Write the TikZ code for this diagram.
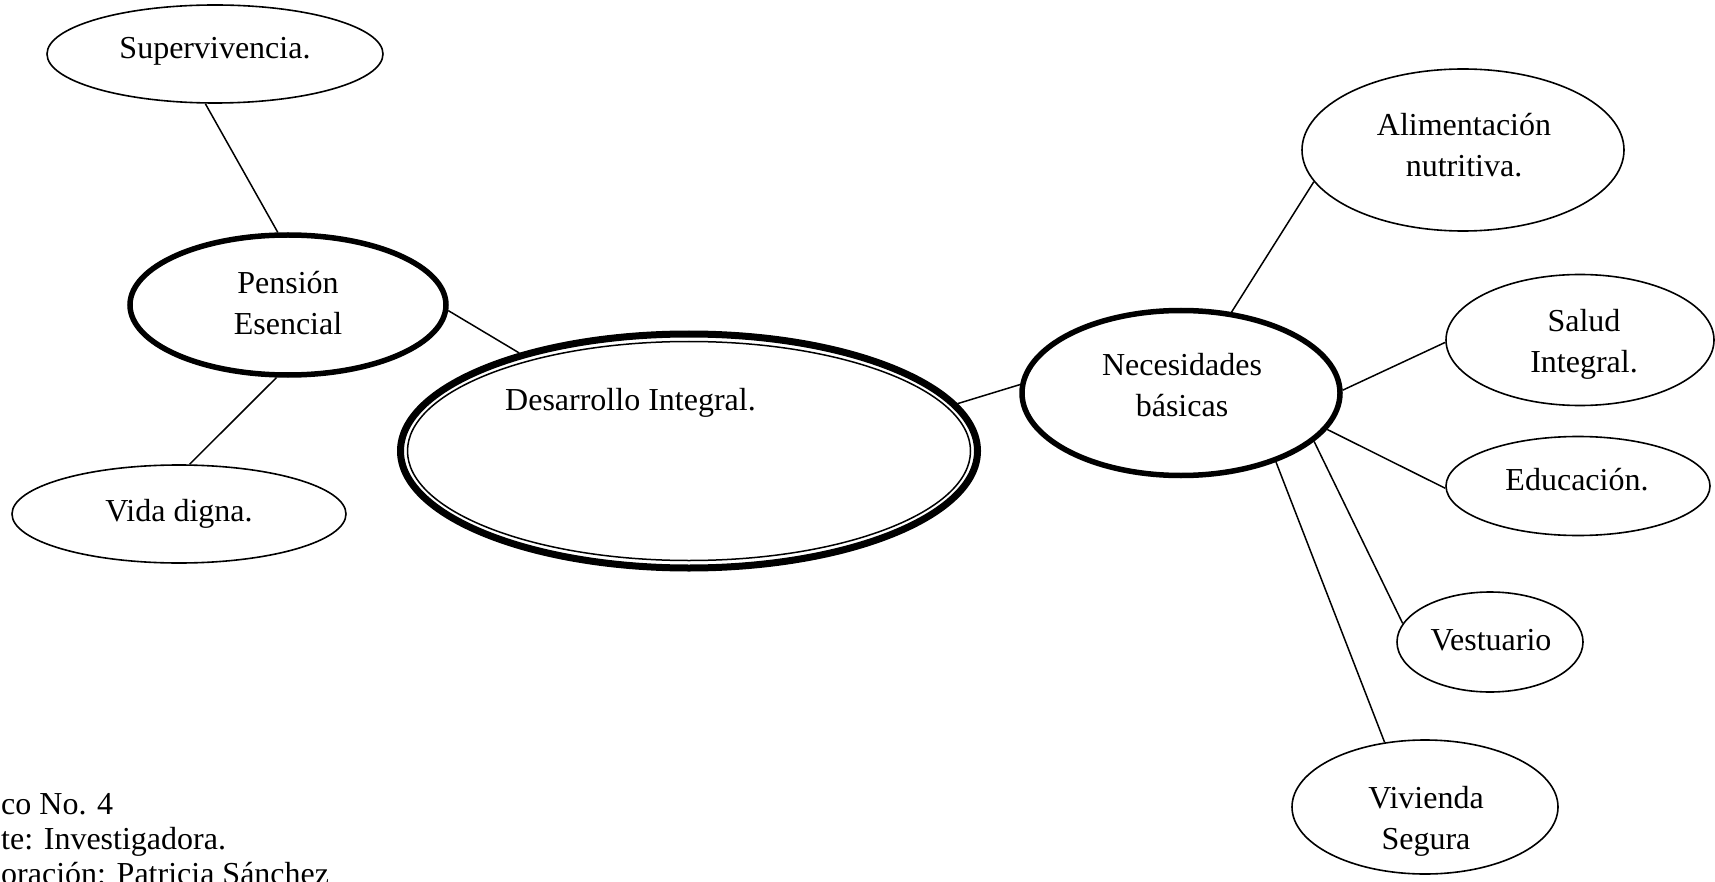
\documentclass[tikz,border=0pt]{standalone}
\usepackage{fontspec}
\setmainfont{Liberation Serif}
\usetikzlibrary{shapes.geometric}
\tikzset{
  txt/.style={font=\fontsize{32}{41}\selectfont, align=center, inner sep=0pt},
  bubble/.style={draw, ellipse, line width=1.6pt, inner sep=0pt},
  bigbubble/.style={draw, ellipse, line width=5.5pt, inner sep=0pt},
  link/.style={line width=1.5pt}
}
\begin{document}
\begin{tikzpicture}[x=1pt, y=-1pt]
\useasboundingbox (0,0) rectangle (1715,882);
\clip (0,0) rectangle (1715,882);
% ellipses
\node[bubble, minimum width=336pt, minimum height=98pt] (sup) at (215,54) {};
\node[bigbubble, minimum width=316pt, minimum height=140pt] (pen) at (288,305) {};
\node[bubble, minimum width=334pt, minimum height=98pt] (vida) at (179,514) {};
\node[draw, ellipse, line width=7pt, inner sep=0pt, minimum width=577pt, minimum height=234pt] (des) at (689,451) {};
\draw[line width=1.5pt] (des.center) ellipse (281.5pt and 109.5pt);
\node[bigbubble, minimum width=318pt, minimum height=165pt] (nec) at (1181,393) {};
\node[bubble, minimum width=322pt, minimum height=162pt] (ali) at (1463,150) {};
\node[bubble, minimum width=268pt, minimum height=131pt] (sal) at (1580,340) {};
\node[bubble, minimum width=264pt, minimum height=99pt] (edu) at (1578,486) {};
\node[bubble, minimum width=186pt, minimum height=100pt] (ves) at (1490,642) {};
\node[bubble, minimum width=266pt, minimum height=134pt] (viv) at (1425,807) {};
% texts
\node[txt] (tsup) at (215,51) {Supervivencia.};
\node[txt] (tpen) at (288,303) {Pensión\\Esencial};
\node[txt] (tvida) at (179,514) {Vida digna.};
\node[txt, anchor=base west] (tdes) at (505,410) {Desarrollo Integral.};
\node[txt] (tnec) at (1182,385) {Necesidades\\básicas};
\node[txt] (tali) at (1464,145) {Alimentación\\nutritiva.};
\node[txt] (tsal) at (1584,344) {Salud\\Integral.};
\node[txt] (tedu) at (1577,480) {Educación.};
\node[txt] (tves) at (1491,640) {Vestuario};
\node[txt] (tviv) at (1426,821) {Vivienda\\Segura};
\node[font=\fontsize{32}{35}\selectfont, align=left, inner sep=0pt, anchor=west] (fuente) at (1,839)
  {co No. 4\\te: Investigadora.\\oración: Patricia Sánchez};
% connectors
\draw[link] (sup.259) -- (pen.98);
\draw[link] (pen.261) -- (vida.78);
\draw[link] (pen.358) -- (des.150);
\draw[link] (des.10) -- (nec.177);
\draw[link] (nec.58) -- (ali.192);
\draw[link] (nec.1) -- (sal.181);
\draw[link] (nec.346) -- (edu.181);
\draw[link] (nec.340) -- (ves.168);
\draw[link] (nec.324) -- (viv.122);
\end{tikzpicture}
\end{document}
